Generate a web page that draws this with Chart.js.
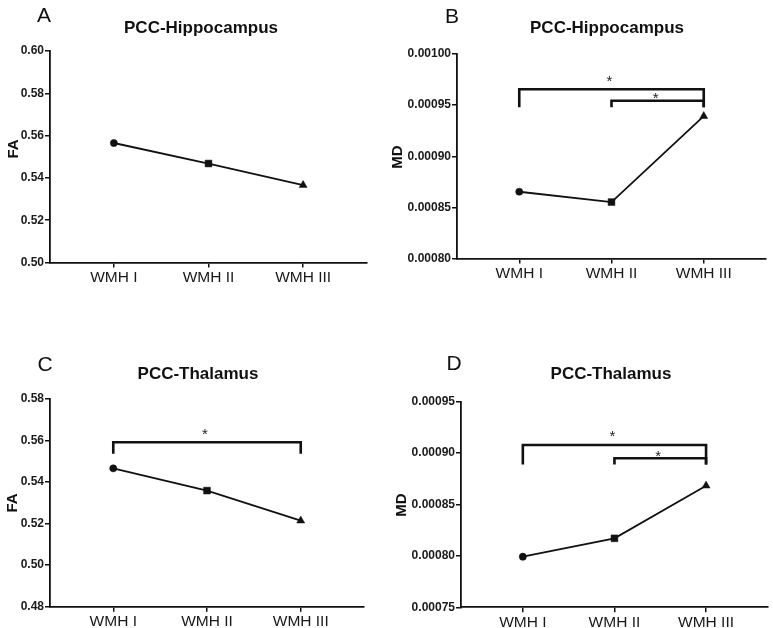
<!DOCTYPE html>
<html><head><meta charset="utf-8">
<script src="https://cdn.jsdelivr.net/npm/chart.js@4.4.0/dist/chart.umd.min.js"></script>
<style>
html,body{margin:0;padding:0;background:#fff;}
body{width:773px;height:628px;position:relative;overflow:hidden;font-family:"Liberation Sans",Arial,sans-serif;color:#111;}
.box{position:absolute;}
.lbl{position:absolute;transform:translate(-50%,-50%);white-space:nowrap;line-height:1;}
.letter{font-size:21px;}
.title{font-size:17px;font-weight:bold;}
.ytitle{font-size:15px;font-weight:bold;transform:translate(-50%,-50%) rotate(-90deg);}
</style></head><body>

<div class="box" style="left:0;top:0;width:386px;height:300px;"><canvas id="cA" width="386" height="300"></canvas></div>
<div class="box" style="left:386px;top:0;width:387px;height:300px;"><canvas id="cB" width="387" height="300"></canvas></div>
<div class="box" style="left:0;top:300px;width:386px;height:328px;"><canvas id="cC" width="386" height="328"></canvas></div>
<div class="box" style="left:386px;top:300px;width:387px;height:328px;"><canvas id="cD" width="387" height="328"></canvas></div>

<div class="lbl letter" style="left:44px;top:14px;">A</div>
<div class="lbl letter" style="left:452px;top:15px;">B</div>
<div class="lbl letter" style="left:45px;top:363px;">C</div>
<div class="lbl letter" style="left:454px;top:362px;">D</div>

<div class="lbl title" style="left:201px;top:27px;">PCC-Hippocampus</div>
<div class="lbl title" style="left:607px;top:27px;">PCC-Hippocampus</div>
<div class="lbl title" style="left:198px;top:373px;">PCC-Thalamus</div>
<div class="lbl title" style="left:611px;top:373px;">PCC-Thalamus</div>

<div class="lbl ytitle" style="left:12px;top:149px;">FA</div>
<div class="lbl ytitle" style="left:396px;top:157px;">MD</div>
<div class="lbl ytitle" style="left:11px;top:503px;">FA</div>
<div class="lbl ytitle" style="left:400px;top:505px;">MD</div>

<script>
// ---- data ----
const categories = ['WMH I', 'WMH II', 'WMH III'];

const faHippocampus = [0.5565, 0.5468, 0.5366];
const mdHippocampus = [0.0008653, 0.0008552, 0.0009392];
const faThalamus    = [0.5466, 0.5359, 0.5214];
const mdThalamus    = [0.0007992, 0.0008171, 0.0008683];

const faHippTicks = [0.50, 0.52, 0.54, 0.56, 0.58, 0.60];
const mdHippTicks = [0.00080, 0.00085, 0.00090, 0.00095, 0.00100];
const faThalTicks = [0.48, 0.50, 0.52, 0.54, 0.56, 0.58];
const mdThalTicks = [0.00075, 0.00080, 0.00085, 0.00090, 0.00095];

// significance brackets: from category, to category, bracket top value, leg end value
const faHippBrackets = [];
const mdHippBrackets = [
  { from: 0, to: 2, top: 0.0009655, leg: 0.000948 },
  { from: 1, to: 2, top: 0.0009543, leg: 0.000948 }
];
const faThalBrackets = [
  { from: 0, to: 2, top: 0.5592, leg: 0.5536 }
];
const mdThalBrackets = [
  { from: 0, to: 2, top: 0.0009079, leg: 0.000889 },
  { from: 1, to: 2, top: 0.0008950, leg: 0.000889 }
];

// ---- drawing ----
const FONT = '"Liberation Sans", Arial, sans-serif';
const INK = '#111';

const starPlugin = {
  id: 'stars',
  afterDatasetsDraw(chart, args, opts) {
    const xs = chart.scales.x, ys = chart.scales.y;
    const ctx = chart.ctx;
    ctx.save();
    ctx.fillStyle = '#222';
    ctx.font = '15px ' + FONT;
    ctx.textAlign = 'center';
    ctx.textBaseline = 'alphabetic';
    (opts.brackets || []).forEach(b => {
      const x = (xs.getPixelForValue(b.from) + xs.getPixelForValue(b.to)) / 2 - 2;
      const y = ys.getPixelForValue(b.top);
      const lift = (b.to - b.from) > 1 ? -3.5 : 2.5;
      ctx.fillText('*', x, y + lift);
    });
    ctx.restore();
  }
};

function makeChart(id, values, ticks, decimals, brackets, area, size) {
  const datasets = [{
    data: values.map((v, i) => ({ x: i, y: v })),
    borderColor: INK,
    borderWidth: 1.8,
    pointStyle: ['circle', 'rect', 'triangle'],
    pointRadius: [3.6, 4.8, 4.6],
    pointBackgroundColor: INK,
    pointBorderColor: INK,
    pointBorderWidth: 0.5,
    clip: false
  }];
  brackets.forEach(b => {
    datasets.push({
      data: [{ x: b.from, y: b.leg }, { x: b.from, y: b.top }, { x: b.to, y: b.top }, { x: b.to, y: b.leg }],
      borderColor: INK,
      borderWidth: 2.6,
      pointRadius: 0,
      borderCapStyle: 'butt',
      borderJoinStyle: 'miter',
      clip: false
    });
  });
  return new Chart(document.getElementById(id), {
    type: 'line',
    data: { datasets },
    options: {
      responsive: false,
      animation: false,
      events: [],
      layout: { padding: { left: 0, top: area.top, right: size.w - area.right, bottom: 0 } },
      plugins: { legend: { display: false }, tooltip: { enabled: false }, stars: { brackets } },
      scales: {
        x: {
          type: 'linear',
          min: -0.675, max: 2.675,
          afterBuildTicks: s => { s.ticks = categories.map((c, i) => ({ value: i })); },
          afterFit: s => { s.height = size.h - area.bottom; },
          grid: { drawOnChartArea: false, drawTicks: true, tickLength: 5, color: INK, lineWidth: 1.5 },
          border: { display: true, color: INK, width: 1.8 },
          ticks: {
            padding: 1,
            color: '#1a1a1a',
            font: { family: FONT, size: 15.5 },
            callback: v => categories[v] ?? ''
          }
        },
        y: {
          type: 'linear',
          min: ticks[0], max: ticks[ticks.length - 1],
          afterBuildTicks: s => { s.ticks = ticks.map(t => ({ value: t })); },
          afterFit: s => { s.width = area.left; },
          grid: { drawOnChartArea: false, drawTicks: true, tickLength: 5, color: INK, lineWidth: 1.5 },
          border: { display: true, color: INK, width: 1.8 },
          ticks: {
            padding: 1,
            color: '#1a1a1a',
            font: { family: FONT, size: 12, weight: 'bold' },
            callback: v => Number(v).toFixed(decimals)
          }
        }
      }
    },
    plugins: [starPlugin]
  });
}

makeChart('cA', faHippocampus, faHippTicks, 2, faHippBrackets,
  { left: 50, top: 51, right: 367, bottom: 262.5 }, { w: 386, h: 300 });
makeChart('cB', mdHippocampus, mdHippTicks, 5, mdHippBrackets,
  { left: 71, top: 54, right: 380, bottom: 258.5 }, { w: 387, h: 300 });
makeChart('cC', faThalamus, faThalTicks, 2, faThalBrackets,
  { left: 50, top: 99, right: 364, bottom: 306.7 }, { w: 386, h: 328 });
makeChart('cD', mdThalamus, mdThalTicks, 5, mdThalBrackets,
  { left: 75, top: 101.7, right: 385, bottom: 307.3 }, { w: 387, h: 328 });
</script>
</body></html>
